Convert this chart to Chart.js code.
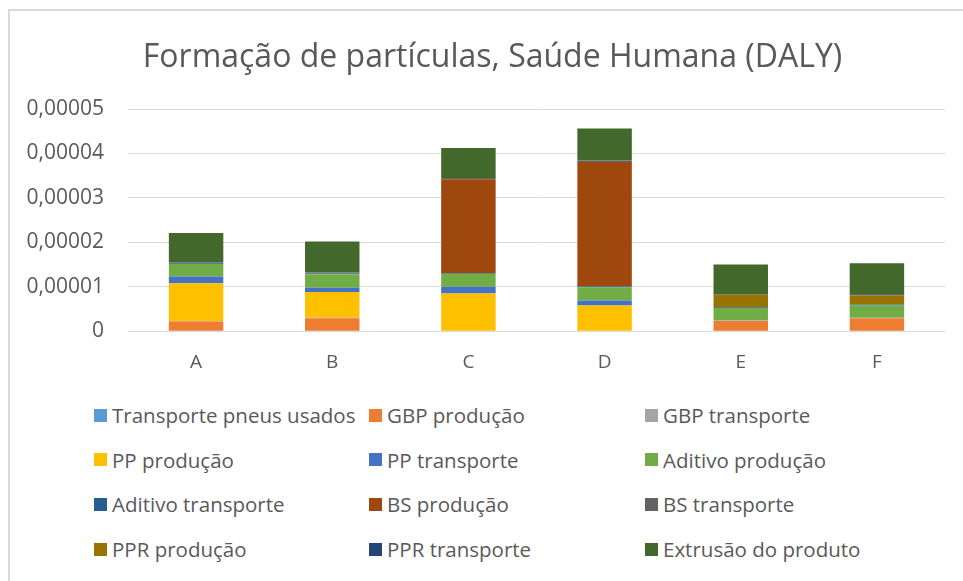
<!DOCTYPE html>
<html>
<head>
<meta charset="utf-8">
<script src="https://cdn.jsdelivr.net/npm/chart.js@4.4.1/dist/chart.umd.min.js"></script>
<style>
  html, body { margin: 0; padding: 0; background: #fff; }
  body { width: 963px; height: 581px; position: relative; overflow: hidden; font-family: "Open Sans", sans-serif; }
  #frame { position: absolute; left: 8px; top: 9px; width: 1000px; height: 600px;
           border-left: 2px solid #d9d9d9; border-top: 2px solid #d9d9d9; }
  #chart { position: absolute; left: 0; top: 0; }
  #title { position: absolute; left: 8px; width: 969px; top: 35px; line-height: 40px;
           text-align: center; font-size: 32px; color: #595959; white-space: nowrap; }
  #legend { position: absolute; left: 94px; top: 393px; display: grid;
            grid-template-columns: 275px 276px 276px; grid-auto-rows: 44.6px; }
  .item { display: flex; align-items: center; font-size: 20.5px; color: #595959; white-space: nowrap; }
  .box { width: 13px; height: 13px; margin-right: 5px; flex: none; }
</style>
</head>
<body>
<div id="frame"></div>
<canvas id="chart" width="963" height="393"></canvas>
<div id="title">Formação de partículas, Saúde Humana (DALY)</div>
<div id="legend"></div>
<script>
// values, in units of 1e-5 DALY
const categories = ['A', 'B', 'C', 'D', 'E', 'F'];
const seriesNames = [
  'Transporte pneus usados', 'GBP produção', 'GBP transporte',
  'PP produção', 'PP transporte', 'Aditivo produção',
  'Aditivo transporte', 'BS produção', 'BS transporte',
  'PPR produção', 'PPR transporte', 'Extrusão do produto'
];
const seriesColors = [
  '#5B9BD5', '#ED7D31', '#A5A5A5',
  '#FFC000', '#4472C4', '#70AD47',
  '#255E91', '#9E480E', '#636363',
  '#997300', '#264478', '#43682B'
];
const transportePneus   = [0.01, 0.01, 0.01, 0.01, 0.01, 0.01];
const gbpProducao       = [0.21, 0.28, 0,    0,    0.22, 0.28];
const gbpTransporte     = [0.01, 0.01, 0,    0,    0.01, 0.01];
const ppProducao        = [0.85, 0.58, 0.84, 0.57, 0,    0];
const ppTransporte      = [0.15, 0.10, 0.15, 0.11, 0,    0];
const aditivoProducao   = [0.28, 0.30, 0.29, 0.30, 0.28, 0.28];
const aditivoTransporte = [0.02, 0.02, 0.02, 0.02, 0.02, 0.02];
const bsProducao        = [0,    0,    2.11, 2.80, 0,    0];
const bsTransporte      = [0.02, 0.02, 0.03, 0.03, 0,    0];
const pprProducao       = [0,    0,    0,    0,    0.28, 0.21];
const pprTransporte     = [0,    0,    0,    0,    0.01, 0.02];
const extrusao          = [0.66, 0.70, 0.67, 0.72, 0.67, 0.70];
const yTicks = [0, 0.00001, 0.00002, 0.00003, 0.00004, 0.00005];

const seriesValues = [
  transportePneus, gbpProducao, gbpTransporte,
  ppProducao, ppTransporte, aditivoProducao,
  aditivoTransporte, bsProducao, bsTransporte,
  pprProducao, pprTransporte, extrusao
];

const textColor = '#595959';
const fontFamily = '"Open Sans", sans-serif';

const datasets = seriesNames.map((name, i) => ({
  label: name,
  data: seriesValues[i].map(v => v * 1e-5),
  backgroundColor: seriesColors[i],
  borderWidth: 0,
  barPercentage: 0.4,
  categoryPercentage: 1.0,
}));

new Chart(document.getElementById('chart'), {
  type: 'bar',
  data: { labels: categories, datasets },
  options: {
    responsive: false,
    animation: false,
    // title is an html element above, so leave room for it here
    layout: { padding: { left: 0, right: 18, top: 109, bottom: 7 } },
    plugins: {
      legend: { display: false },
      tooltip: { enabled: false },
    },
    scales: {
      x: {
        stacked: true,
        grid: { display: false },
        border: { color: '#d9d9d9', width: 1 },
        ticks: { color: textColor, font: { family: fontFamily, size: 19 }, padding: 12 },
      },
      y: {
        stacked: true,
        min: 0,
        max: 0.00005,
        afterBuildTicks: (scale) => { scale.ticks = yTicks.map(v => ({ value: v })); },
        afterFit: (scale) => { scale.width = 128; },
        grid: { color: '#d9d9d9', drawTicks: false },
        border: { display: false },
        ticks: {
          color: textColor,
          font: { family: fontFamily, size: 21 },
          padding: 24,
          callback: (v) => v === 0 ? '0' : v.toFixed(5).replace('.', ','),
        },
      },
    },
  },
});

// legend laid out in three columns like the original
const legend = document.getElementById('legend');
seriesNames.forEach((name, i) => {
  const item = document.createElement('div');
  item.className = 'item';
  const box = document.createElement('span');
  box.className = 'box';
  box.style.background = seriesColors[i];
  item.appendChild(box);
  item.appendChild(document.createTextNode(name));
  legend.appendChild(item);
});
</script>
</body>
</html>
